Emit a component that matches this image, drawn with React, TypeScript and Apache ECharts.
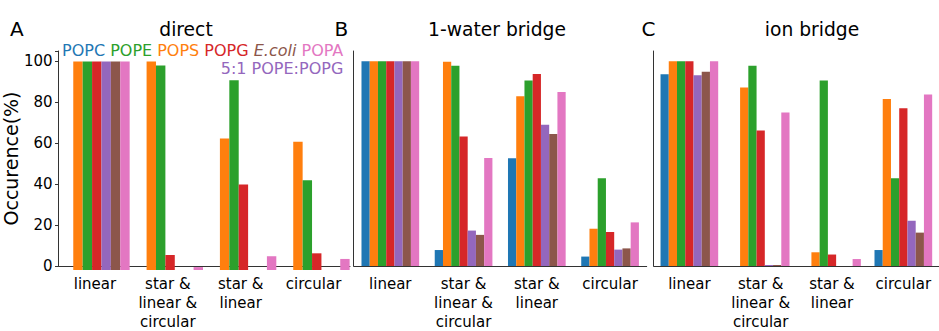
import React, { useEffect, useRef } from 'react';
import * as echarts from 'echarts';

// Binding-motif categories on the x axis of every panel
const CATEGORIES = ['linear', 'star &\nlinear &\ncircular', 'star &\nlinear', 'circular'];

// Bar order inside each group (left to right)
const LIPIDS = ['POPC', 'POPS', 'POPE', 'POPG', '5:1 POPE:POPG', 'E.coli', 'POPA'];

const COLORS: Record<string, string> = {
  POPC: '#1f77b4',
  POPS: '#ff7f0e',
  POPE: '#2ca02c',
  POPG: '#d62728',
  '5:1 POPE:POPG': '#9467bd',
  'E.coli': '#8c564b',
  POPA: '#e377c2',
};

// Occurence (%) per category — direct contacts (no POPC bars)
const DIRECT_POPS = [100, 100, 63, 61.5];
const DIRECT_POPE = [100, 98, 91, 43];
const DIRECT_POPG = [100, 7.2, 41, 8];
const DIRECT_MIX = [100, 0, 0, 0];
const DIRECT_ECOLI = [100, 0, 0, 0];
const DIRECT_POPA = [100, 1.4, 6.6, 5.3];

// Occurence (%) — 1-water bridge
const WATER_POPC = [100, 7.8, 52.6, 4.6];
const WATER_POPS = [100, 99.8, 82.9, 18.2];
const WATER_POPE = [100, 97.8, 90.6, 42.9];
const WATER_POPG = [100, 63.2, 93.8, 16.6];
const WATER_MIX = [100, 17.3, 69, 8];
const WATER_ECOLI = [100, 15.2, 64.5, 8.6];
const WATER_POPA = [100, 52.8, 85, 21.3];

// Occurence (%) — ion bridge
const ION_POPC = [93.6, 0, 0, 7.8];
const ION_POPS = [100, 87.2, 6.7, 81.6];
const ION_POPE = [100, 97.8, 90.6, 42.9];
const ION_POPG = [100, 66.2, 5.6, 77.1];
const ION_MIX = [93.1, 0.5, 0, 22.1];
const ION_ECOLI = [94.9, 0.5, 0, 16.3];
const ION_POPA = [100, 75, 3.4, 83.8];

const Y_TICKS = [0, 20, 40, 60, 80, 100];

const FONT = "'DejaVu Sans', sans-serif";
const AXIS_COLOR = '#333';

const directSeries: [string, number[]][] = [
  ['POPS', DIRECT_POPS],
  ['POPE', DIRECT_POPE],
  ['POPG', DIRECT_POPG],
  ['5:1 POPE:POPG', DIRECT_MIX],
  ['E.coli', DIRECT_ECOLI],
  ['POPA', DIRECT_POPA],
];
const waterSeries: [string, number[]][] = [
  ['POPC', WATER_POPC],
  ['POPS', WATER_POPS],
  ['POPE', WATER_POPE],
  ['POPG', WATER_POPG],
  ['5:1 POPE:POPG', WATER_MIX],
  ['E.coli', WATER_ECOLI],
  ['POPA', WATER_POPA],
];
const ionSeries: [string, number[]][] = [
  ['POPC', ION_POPC],
  ['POPS', ION_POPS],
  ['POPE', ION_POPE],
  ['POPG', ION_POPG],
  ['5:1 POPE:POPG', ION_MIX],
  ['E.coli', ION_ECOLI],
  ['POPA', ION_POPA],
];

function bars(list: [string, number[]][], axis: number, width: number) {
  return list
    .sort((a, b) => LIPIDS.indexOf(a[0]) - LIPIDS.indexOf(b[0]))
    .map(([name, values]) => ({
      type: 'bar',
      name,
      xAxisIndex: axis,
      yAxisIndex: axis,
      data: values,
      barWidth: width,
      barGap: '0%',
      itemStyle: { color: COLORS[name] },
      silent: true,
    }));
}

function categoryAxis(grid: number, visible: boolean) {
  return {
    type: 'category',
    gridIndex: grid,
    data: CATEGORIES,
    show: visible,
    boundaryGap: true,
    axisLine: { show: true, lineStyle: { color: AXIS_COLOR, width: 1 } },
    axisTick: { show: false },
    axisLabel: {
      show: true,
      interval: 0,
      margin: 8,
      color: '#000',
      fontFamily: FONT,
      fontSize: 15,
      lineHeight: 19,
      align: 'center',
    },
  };
}

function valueAxis(grid: number, mode: 'labelled' | 'plain' | 'hidden') {
  return {
    type: 'value',
    gridIndex: grid,
    min: 0,
    max: 105,
    interval: 20,
    show: mode !== 'hidden',
    splitLine: { show: false },
    axisLine: { show: true, lineStyle: { color: AXIS_COLOR, width: 1 } },
    axisTick: { show: mode === 'labelled', length: 3.5, lineStyle: { color: AXIS_COLOR } },
    axisLabel: {
      show: mode === 'labelled',
      margin: 6,
      color: '#000',
      fontFamily: FONT,
      fontSize: 15,
      formatter: (v: number) => (Y_TICKS.includes(v) ? String(v) : ''),
    },
    name: mode === 'labelled' ? 'Occurence(%)' : '',
    nameLocation: 'middle',
    nameRotate: 90,
    nameGap: 30,
    nameTextStyle: { color: '#000', fontFamily: FONT, fontSize: 19 },
  };
}

function label(text: string, x: number, y: number, size: number, align = 'left') {
  return {
    type: 'text',
    x,
    y,
    silent: true,
    style: {
      text,
      fill: '#000',
      font: `${size}px ${FONT}`,
      align,
      verticalAlign: 'middle',
    },
  };
}

const legendFont = `16px ${FONT}`;

export default function App() {
  const ref = useRef<HTMLDivElement>(null);

  useEffect(() => {
    if (!ref.current) return;
    const chart = echarts.init(ref.current, undefined, { renderer: 'svg' });
    const top = 51;
    const height = 219;
    chart.setOption({
      animation: false,
      backgroundColor: '#fff',
      grid: [
        { left: 56.7, top, width: 293.3, height },
        { left: 64.8, top, width: 293.3, height },
        { left: 353.7, top, width: 293, height },
        { left: 653.7, top, width: 293.3, height },
      ],
      xAxis: [
        categoryAxis(0, true),
        categoryAxis(1, false),
        categoryAxis(2, true),
        categoryAxis(3, true),
      ],
      yAxis: [valueAxis(0, 'labelled'), valueAxis(1, 'hidden'), valueAxis(2, 'plain'), valueAxis(3, 'plain')],
      series: [
        ...bars(directSeries, 1, 9.4),
        ...bars(waterSeries, 2, 8.24),
        ...bars(ionSeries, 3, 8.24),
      ],
      graphic: [
        label('A', 10, 29, 20),
        label('B', 334.5, 29, 20),
        label('C', 641.5, 29, 20),
        label('direct', 186, 29, 18.7, 'center'),
        label('1-water bridge', 497, 29, 18.7, 'center'),
        label('ion bridge', 812, 29, 18.7, 'center'),
        {
          type: 'text',
          x: 343.3,
          y: 50.3,
          silent: true,
          style: {
            text: '{c|POPC} {e|POPE} {s|POPS} {g|POPG} {k|E.coli} {a|POPA}',
            font: legendFont,
            lineHeight: 15,
            align: 'right',
            verticalAlign: 'middle',
            rich: {
              c: { fill: COLORS.POPC, font: legendFont, lineHeight: 15 },
              e: { fill: COLORS.POPE, font: legendFont, lineHeight: 15 },
              s: { fill: COLORS.POPS, font: legendFont, lineHeight: 15 },
              g: { fill: COLORS.POPG, font: legendFont, lineHeight: 15 },
              k: { fill: COLORS['E.coli'], font: `italic ${legendFont}`, lineHeight: 15 },
              a: { fill: COLORS.POPA, font: legendFont, lineHeight: 15 },
            },
          },
        },
        {
          type: 'text',
          x: 343.3,
          y: 68.9,
          silent: true,
          style: {
            text: '5:1 POPE:POPG',
            fill: COLORS['5:1 POPE:POPG'],
            font: legendFont,
            lineHeight: 15,
            align: 'right',
            verticalAlign: 'middle',
          },
        },
      ],
    });
    return () => chart.dispose();
  }, []);

  return (
    <div
      ref={ref}
      style={{ position: 'fixed', left: 0, top: 0, width: 939, height: 331, background: '#fff' }}
    />
  );
}
